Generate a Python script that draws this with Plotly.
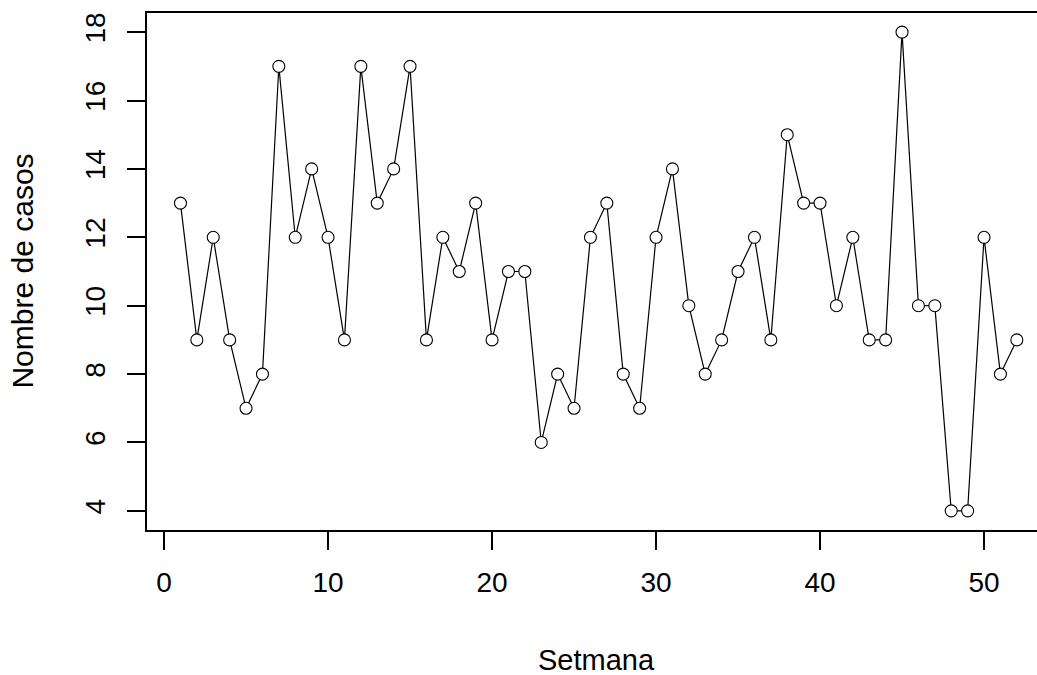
import plotly.graph_objects as go

setmana = list(range(1, 53))
casos = [13, 9, 12, 9, 7, 8, 17, 12, 14, 12, 9, 17, 13, 14, 17, 9, 12, 11, 13, 9,
         11, 11, 6, 8, 7, 12, 13, 8, 7, 12, 14, 10, 8, 9, 11, 12, 9, 15, 13, 13,
         10, 12, 9, 9, 18, 10, 10, 4, 4, 12, 8, 9]
x_ticks = [0, 10, 20, 30, 40, 50]
y_ticks = [4, 6, 8, 10, 12, 14, 16, 18]
x_title = "Setmana"
y_title = "Nombre de casos"

FONT = "Liberation Sans, Arial, sans-serif"

fig = go.Figure()
fig.add_trace(go.Scatter(
    x=setmana, y=casos, mode="lines+markers",
    line=dict(color="black", width=1.2),
    marker=dict(symbol="circle", size=12, color="white",
                line=dict(color="black", width=1.1)),
    showlegend=False, hoverinfo="x+y",
))

fig.update_layout(
    width=1037, height=675,
    margin=dict(l=147, r=0, t=13, b=145),
    paper_bgcolor="white", plot_bgcolor="white",
    font=dict(family=FONT, size=28, color="black"),
    xaxis=dict(range=[-1.04, 53.23], tickvals=x_ticks, ticks="outside",
               ticklen=18, tickwidth=1.5, tickcolor="black",
               ticklabelstandoff=9,
               showline=True, mirror=True, linecolor="black", linewidth=1.5,
               showgrid=False, zeroline=False,
               tickfont=dict(family=FONT, size=28, color="black")),
    yaxis=dict(range=[3.44, 18.56], tickvals=y_ticks, ticks="outside",
               ticklen=18, tickwidth=1.5, tickcolor="black", tickangle=-90,
               ticklabelstandoff=11,
               showline=True, mirror=False, linecolor="black", linewidth=1.5,
               showgrid=False, zeroline=False,
               tickfont=dict(family=FONT, size=28, color="black")),
    annotations=[
        dict(text=x_title, xref="paper", yref="paper", x=0.5056, y=-0.2515,
             xanchor="center", yanchor="middle", showarrow=False,
             font=dict(family=FONT, size=29, color="black")),
        dict(text=y_title, xref="paper", yref="paper", x=-0.1404, y=0.5,
             xanchor="center", yanchor="middle", showarrow=False, textangle=-90,
             font=dict(family=FONT, size=30, color="black")),
    ],
)

fig.write_html("out.html", config={"displayModeBar": False},
               post_script="document.body.style.margin='0';document.body.style.overflow='hidden';")
